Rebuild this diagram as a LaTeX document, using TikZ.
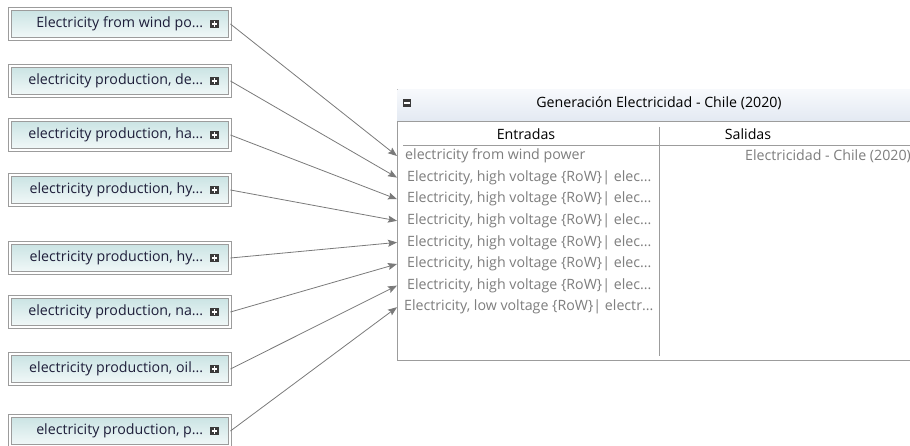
\documentclass[tikz,border=0pt]{standalone}
\usepackage{fontspec}
\setmainfont{Open Sans}
\usetikzlibrary{arrows.meta}
\definecolor{boxline}{HTML}{9C9C9C}
\definecolor{tealtop}{HTML}{C9E3E3}
\definecolor{tealbot}{HTML}{F3F9F9}
\definecolor{navy}{HTML}{1E1E3A}
\definecolor{rowgray}{HTML}{7E7E7E}
\definecolor{conngray}{HTML}{7A7A7A}
\definecolor{titletop}{HTML}{F7F9FC}
\definecolor{titlebot}{HTML}{E3E9F2}
\definecolor{icon}{HTML}{3A3A3A}
\newcommand{\srcnode}[3]{%
  \node[srcbox] (b#1) at (120,#2) {};
  \node[srclabel] (l#1) at ([xshift=-27pt]b#1.east) {#3};
  \node[plusicon] (p#1) at ([xshift=-16pt]b#1.east) {};
  \draw[iconbar] ([xshift=-2.6pt]p#1.center) -- ([xshift=2.6pt]p#1.center);
  \draw[iconbar] ([yshift=-2.6pt]p#1.center) -- ([yshift=2.6pt]p#1.center);
}
\begin{document}
\begin{tikzpicture}[x=1pt,y=-1pt,
  srcbox/.style={draw=boxline, double=white, double distance=1.6pt, line width=0.9pt,
    top color=tealtop, bottom color=tealbot, minimum width=220pt, minimum height=30pt,
    inner sep=0pt},
  srclabel/.style={anchor=east, inner sep=0pt, text=navy, font=\fontsize{14.2}{16}\selectfont},
  plusicon/.style={fill=icon, minimum width=8.5pt, minimum height=8.5pt, inner sep=0pt},
  minusicon/.style={fill=icon, minimum width=8.5pt, minimum height=7.5pt, inner sep=0pt},
  iconbar/.style={draw=white, line width=1.3pt},
  rowtext/.style={anchor=west, inner xsep=8pt, inner ysep=0pt, text=rowgray, font=\fontsize{14.2}{16}\selectfont},
  headtext/.style={inner sep=0pt, text=black, font=\fontsize{14.2}{16}\selectfont},
  conn/.style={draw=conngray, line width=0.8pt, -{Stealth[length=9pt,width=7pt,inset=1.5pt]}},
  rule/.style={draw=boxline, line width=0.9pt}
]
\useasboundingbox (0,0) rectangle (910,446);
\clip (0,0) rectangle (910,446);

% right panel
\node[draw=boxline, line width=0.9pt, fill=white, anchor=north west, minimum width=524pt, minimum height=271pt, inner sep=0pt] (panel) at (397,89) {};
\node[top color=titletop, bottom color=titlebot, anchor=north west, minimum width=523pt, minimum height=31.5pt, inner sep=0pt] (title) at (397.5,89.5) {};
\draw[rule] (397,121) -- (921,121);
\node[minusicon] (minus) at (407,103) {};
\draw[iconbar] ([xshift=-2.7pt]minus.center) -- ([xshift=2.7pt]minus.center);
\node[headtext] (titletext) at (659,103) {Generación Electricidad - Chile (2020)};
\node[headtext] (entradas) at (526,134) {Entradas};
\node[headtext] (salidas) at (748,134) {Salidas};
\draw[rule] (403,145) -- (921,145);
\draw[rule] (659,127) -- (659,356);

\node[rowtext] (r1) at (397,156) {electricity from wind power};
\node[rowtext] (r2) at (397,177.6) {\hspace{2pt}Electricity, high voltage \{RoW\}| elec...};
\node[rowtext] (r3) at (397,199.2) {\hspace{2pt}Electricity, high voltage \{RoW\}| elec...};
\node[rowtext] (r4) at (397,220.8) {\hspace{2pt}Electricity, high voltage \{RoW\}| elec...};
\node[rowtext] (r5) at (397,242.4) {\hspace{2pt}Electricity, high voltage \{RoW\}| elec...};
\node[rowtext] (r6) at (397,264) {\hspace{2pt}Electricity, high voltage \{RoW\}| elec...};
\node[rowtext] (r7) at (397,285.6) {\hspace{2pt}Electricity, high voltage \{RoW\}| elec...};
\node[rowtext, inner xsep=7pt] (r8) at (397,307.2) {Electricity, low voltage \{RoW\}| electr...};
\node[rowtext, anchor=west, inner xsep=0pt] (out1) at (745,156) {Electricidad - Chile (2020)};

% source boxes
\srcnode{1}{24}{Electricity from wind po...}
\srcnode{2}{81}{electricity production, de...}
\srcnode{3}{135}{electricity production, ha...}
\srcnode{4}{190}{electricity production, hy...}
\srcnode{5}{258}{electricity production, hy...}
\srcnode{6}{312}{electricity production, na...}
\srcnode{7}{369}{electricity production, oil...}
\srcnode{8}{431}{electricity production, p...}

\foreach \n in {1,...,8}{
  \draw[conn] (b\n.east) -- (r\n.west);
}
\end{tikzpicture}
\end{document}
